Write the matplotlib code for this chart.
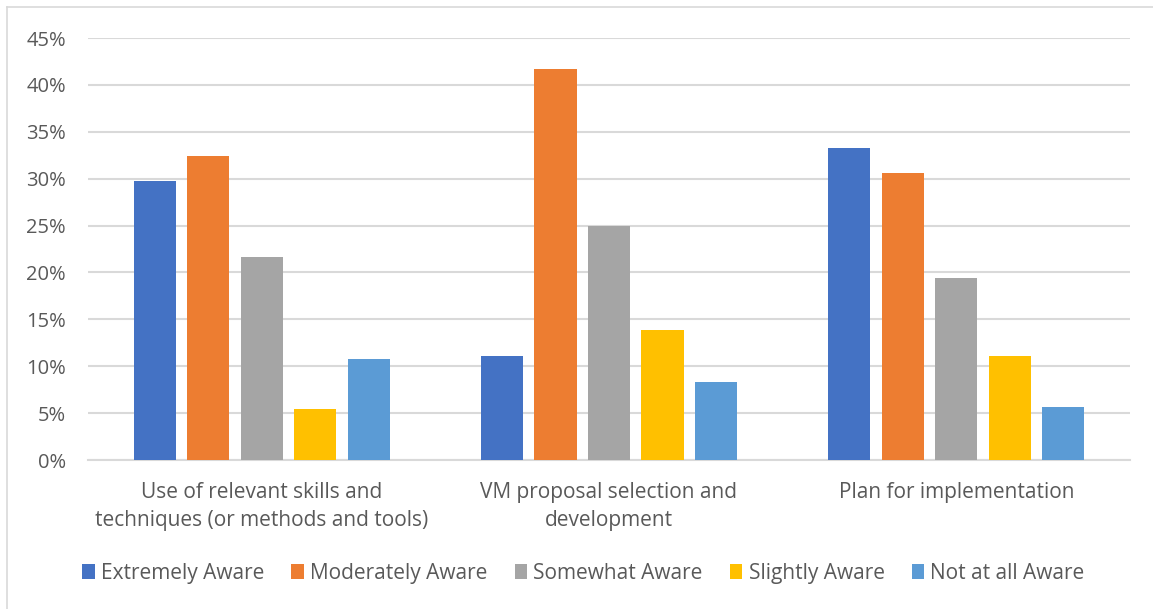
import numpy as np
import matplotlib.pyplot as plt
from matplotlib.lines import Line2D

categories = [
    "Use of relevant skills and\ntechniques (or methods and tools)",
    "VM proposal selection and\ndevelopment",
    "Plan for implementation",
]
series_names = [
    "Extremely Aware",
    "Moderately Aware",
    "Somewhat Aware",
    "Slightly Aware",
    "Not at all Aware",
]
extremely = [29.7, 11.1, 33.3]
moderately = [32.4, 41.7, 30.6]
somewhat = [21.6, 25.0, 19.4]
slightly = [5.4, 13.9, 11.1]
not_at_all = [10.8, 8.3, 5.6]

colors = ["#4472C4", "#ED7D31", "#A5A5A5", "#FFC000", "#5B9BD5"]
text_color = "#595959"
grid_color = "#D9D9D9"

plt.rcParams["font.family"] = ["Open Sans", "DejaVu Sans"]

fig = plt.figure(figsize=(11.53, 6.09), dpi=100)
ax = fig.add_axes([88 / 1153, 149 / 609, 1042 / 1153, 422 / 609])

x = np.arange(len(categories))
slot = 0.154
width = 0.121
all_series = [extremely, moderately, somewhat, slightly, not_at_all]
for i, (vals, name, c) in enumerate(zip(all_series, series_names, colors)):
    ax.bar(x + (i - 2) * slot, vals, width=width, color=c, label=name, zorder=3)

ax.set_xlim(-0.5, 2.5)
ax.set_ylim(0, 45)
ax.set_yticks(np.arange(0, 46, 5))
ax.set_yticklabels([f"{v}%" for v in range(0, 46, 5)])
ax.set_xticks(x)
ax.set_xticklabels(categories, linespacing=1.45)

ax.grid(True, axis="y", color=grid_color, linewidth=1.5, zorder=0)
for s in ["top", "right", "left"]:
    ax.spines[s].set_visible(False)
ax.spines["bottom"].set_color(grid_color)
ax.spines["bottom"].set_linewidth(1.5)
ax.tick_params(axis="both", length=0, colors=text_color)
ax.tick_params(axis="y", pad=16, labelsize=14.5)
ax.tick_params(axis="x", pad=16, labelsize=15)

leg = fig.legend(
    loc="center",
    bbox_to_anchor=(0.506, 0.059),
    ncol=5,
    frameon=False,
    fontsize=15,
    handlelength=0.6,
    handleheight=0.7,
    handletextpad=0.3,
    columnspacing=1.3,
)
for t in leg.get_texts():
    t.set_color(text_color)

# light chart border
fig.add_artist(Line2D([7 / 1153, 7 / 1153], [0, 1 - 7 / 609], color=grid_color, linewidth=1.2))
fig.add_artist(Line2D([7 / 1153, 1], [1 - 7 / 609, 1 - 7 / 609], color=grid_color, linewidth=1.2))

fig.savefig("out.png", dpi=100)
